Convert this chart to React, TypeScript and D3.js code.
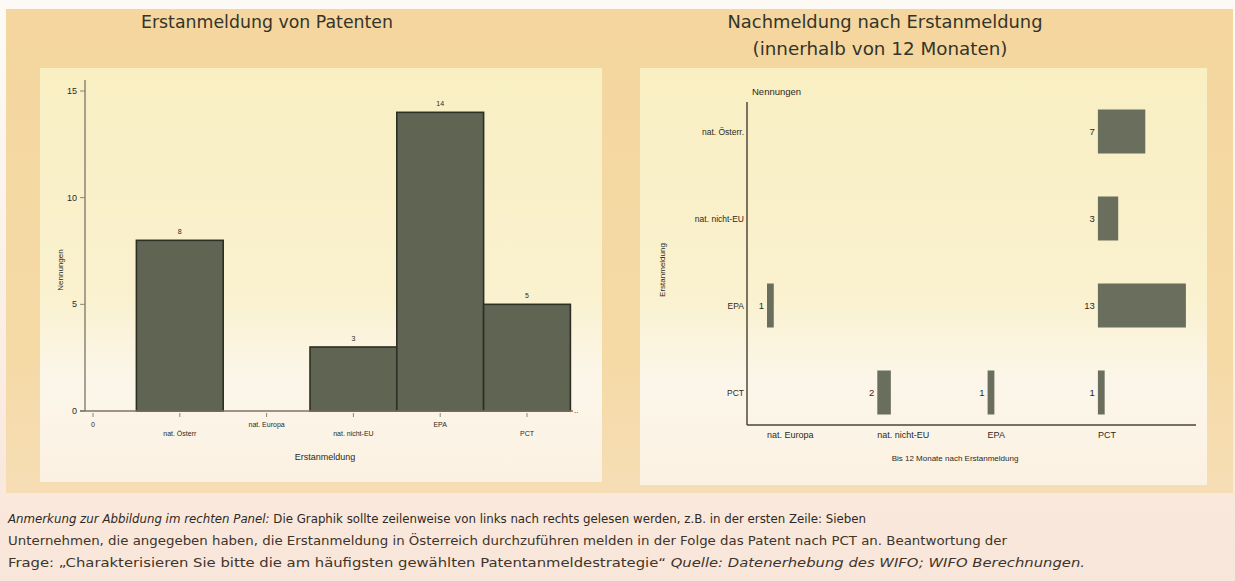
import React from "react";
import * as d3 from "d3";

// ---------- data ----------
const leftCategories = ["0", "nat. Österr", "nat. Europa", "nat. nicht-EU", "EPA", "PCT"];
const leftValues: (number | null)[] = [null, 8, 0, 3, 14, 5];
const leftYTicks = [0, 5, 10, 15];

const rightRows = ["nat. Österr.", "nat. nicht-EU", "EPA", "PCT"];
const rightCols = ["nat. Europa", "nat. nicht-EU", "EPA", "PCT"];
const countsNatOesterr = [0, 0, 0, 7];
const countsNatNichtEU = [0, 0, 0, 3];
const countsEPA = [1, 0, 0, 13];
const countsPCT = [0, 2, 1, 1];
const rightCounts = [countsNatOesterr, countsNatNichtEU, countsEPA, countsPCT];

const titleLeft = "Erstanmeldung von Patenten";
const titleRight1 = "Nachmeldung nach Erstanmeldung";
const titleRight2 = "(innerhalb von 12 Monaten)";

const W = 1235;
const H = 581;

const armFont = "'Liberation Sans', Arial, sans-serif";
const titleFont = "'DejaVu Sans', 'Noto Sans', sans-serif";

export default function App() {
  // left chart scales
  const xL = d3.scaleBand<string>().domain(leftCategories).range([49.6, 570.4]).padding(0);
  const yL = d3.scaleLinear().domain([0, 15]).range([411, 91]);

  // right chart scales
  const col = d3.scaleBand<string>().domain(rightCols).range([767, 767 + 4 * 110.3]).padding(0);
  const row = d3.scaleBand<string>().domain(rightRows).range([88, 436]).padding(0);
  const wR = d3.scaleLinear().domain([0, 13]).range([0, 88]);
  const barH = 44;

  const textCol = "#2c2a22";

  return (
    <svg
      width={W}
      height={H}
      viewBox={`0 0 ${W} ${H}`}
      style={{ position: "absolute", left: 0, top: 0, display: "block" }}
    >
      <defs>
        <linearGradient id="panelGrad" x1="0" y1="0" x2="0" y2="1">
          <stop offset="0" stopColor="#f9efc3" />
          <stop offset="0.55" stopColor="#faf1cf" />
          <stop offset="0.75" stopColor="#fcf6ea" />
          <stop offset="1" stopColor="#fbf1e2" />
        </linearGradient>
        <linearGradient id="bgGrad" x1="0" y1="0" x2="0" y2="1">
          <stop offset="0" stopColor="#f4d69e" />
          <stop offset="0.7" stopColor="#f5daa6" />
          <stop offset="1" stopColor="#f6ddb4" />
        </linearGradient>
        <linearGradient id="pageGrad" x1="0" y1="0" x2="0" y2="1">
          <stop offset="0" stopColor="#fdfaf6" />
          <stop offset="0.02" stopColor="#fdfaf6" />
          <stop offset="0.85" stopColor="#f9e8dc" />
          <stop offset="1" stopColor="#f9e6da" />
        </linearGradient>
      </defs>

      {/* page backgrounds */}
      <rect x={0} y={0} width={W} height={H} fill="url(#pageGrad)" />
      <rect x={6} y={9} width={W - 8} height={484} fill="url(#bgGrad)" />
      <rect x={40} y={68} width={562} height={414} fill="url(#panelGrad)" />
      <rect x={640} y={68} width={567} height={417} fill="url(#panelGrad)" />

      {/* titles */}
      <text x={267} y={28} textAnchor="middle" fontFamily={titleFont} fontSize={18} fill="#35342a"
        textLength={252} lengthAdjust="spacingAndGlyphs">{titleLeft}</text>
      <text x={885} y={28} textAnchor="middle" fontFamily={titleFont} fontSize={18} fill="#35342a"
        textLength={315} lengthAdjust="spacingAndGlyphs">{titleRight1}</text>
      <text x={880} y={55} textAnchor="middle" fontFamily={titleFont} fontSize={18} fill="#35342a"
        textLength={255} lengthAdjust="spacingAndGlyphs">{titleRight2}</text>

      {/* ---------- left chart ---------- */}
      {leftCategories.map((c, i) => {
        const v = leftValues[i];
        if (v === null || v === 0) return null;
        const x0 = xL(c)!;
        return (
          <g key={c}>
            <rect x={x0} y={yL(v)} width={xL.bandwidth()} height={yL(0) - yL(v)}
              fill="#5f6453" stroke="#2d2f25" strokeWidth={1.6} />
            <text x={x0 + xL.bandwidth() / 2} y={yL(v) - 6} textAnchor="middle"
              fontFamily={armFont} fontSize={7} fill={textCol}>{v}</text>
          </g>
        );
      })}
      {/* y axis */}
      <line x1={85} x2={85} y1={80} y2={yL(0)} stroke="#8d8473" strokeWidth={1.5} />
      {leftYTicks.map((t) => (
        <g key={t}>
          <line x1={80} x2={85} y1={yL(t)} y2={yL(t)} stroke="#8d8473" strokeWidth={1} />
          <text x={77} y={yL(t) + 3} textAnchor="end" fontFamily={armFont} fontSize={9} fill={textCol}>{t}</text>
        </g>
      ))}
      <text transform={`translate(63,270) rotate(-90)`} textAnchor="middle" fontFamily={armFont}
        fontSize={8} fill={textCol}>Nennungen</text>
      {/* x axis */}
      <line x1={80} x2={573} y1={yL(0)} y2={yL(0)} stroke="#7d7565" strokeWidth={1.5} />
      <text x={574} y={yL(0) + 2} fontFamily={armFont} fontSize={8} fill={textCol}>..</text>
      {leftCategories.map((c, i) => {
        const cx = xL(c)! + xL.bandwidth() / 2;
        return (
          <g key={"xl" + c}>
            <line x1={cx} x2={cx} y1={yL(0) + 2} y2={yL(0) + 6} stroke="#8d8473" strokeWidth={1} />
            <text x={cx} y={i % 2 === 0 ? 427 : 436} textAnchor="middle" fontFamily={armFont}
              fontSize={7} fill={textCol}>{c}</text>
          </g>
        );
      })}
      <text x={325} y={460} textAnchor="middle" fontFamily={armFont} fontSize={9} fill={textCol}>Erstanmeldung</text>

      {/* ---------- right chart ---------- */}
      <text x={752} y={95} fontFamily={armFont} fontSize={9.5} fill={textCol}>Nennungen</text>
      {rightRows.map((r, ri) =>
        rightCols.map((c, ci) => {
          const v = rightCounts[ri][ci];
          if (!v) return null;
          const x0 = col(c)!;
          const cy = row(r)! + row.bandwidth() / 2;
          return (
            <g key={r + c}>
              <rect x={x0} y={cy - barH / 2} width={wR(v)} height={barH} fill="#6a6f5d" />
              <text x={x0 - 3} y={cy + 3.5} textAnchor="end" fontFamily={armFont} fontSize={9.5}
                fill={textCol}>{v}</text>
            </g>
          );
        })
      )}
      <line x1={747} x2={747} y1={102} y2={425} stroke="#5a5447" strokeWidth={1.6} />
      <line x1={747} x2={1196} y1={425} y2={425} stroke="#4a463c" strokeWidth={1.6} />
      {rightRows.map((r) => (
        <text key={"rl" + r} x={744} y={row(r)! + row.bandwidth() / 2 + 3} textAnchor="end"
          fontFamily={armFont} fontSize={8.5} fill={textCol}>{r}</text>
      ))}
      {rightCols.map((c) => (
        <text key={"cl" + c} x={col(c)!} y={438} fontFamily={armFont} fontSize={9} fill={textCol}>{c}</text>
      ))}
      <text transform={`translate(665,270) rotate(-90)`} textAnchor="middle" fontFamily={armFont}
        fontSize={8} fill={textCol}>Erstanmeldung</text>
      <text x={955} y={461} textAnchor="middle" fontFamily={armFont} fontSize={8} fill={textCol}>Bis 12 Monate nach Erstanmeldung</text>

      {/* ---------- note ---------- */}
      <text x={8} y={523} fontFamily={titleFont} fontSize={12} fill="#2e2a24" textLength={858}
        lengthAdjust="spacingAndGlyphs">
        <tspan fontStyle="italic">Anmerkung zur Abbildung im rechten Panel:</tspan>
        <tspan> Die Graphik sollte zeilenweise von links nach rechts gelesen werden, z.B. in der ersten Zeile: Sieben</tspan>
      </text>
      <text x={8} y={545} fontFamily={titleFont} fontSize={12} fill="#40352a" textLength={999}
        lengthAdjust="spacingAndGlyphs">
        Unternehmen, die angegeben haben, die Erstanmeldung in Österreich durchzuführen melden in der Folge das Patent nach PCT an. Beantwortung der
      </text>
      <text x={8} y={567} fontFamily={titleFont} fontSize={12} fill="#40352a" textLength={1077}
        lengthAdjust="spacingAndGlyphs">
        <tspan>Frage: „Charakterisieren Sie bitte die am häufigsten gewählten Patentanmeldestrategie“ </tspan>
        <tspan fontStyle="italic">Quelle: Datenerhebung des WIFO; WIFO Berechnungen.</tspan>
      </text>
    </svg>
  );
}
